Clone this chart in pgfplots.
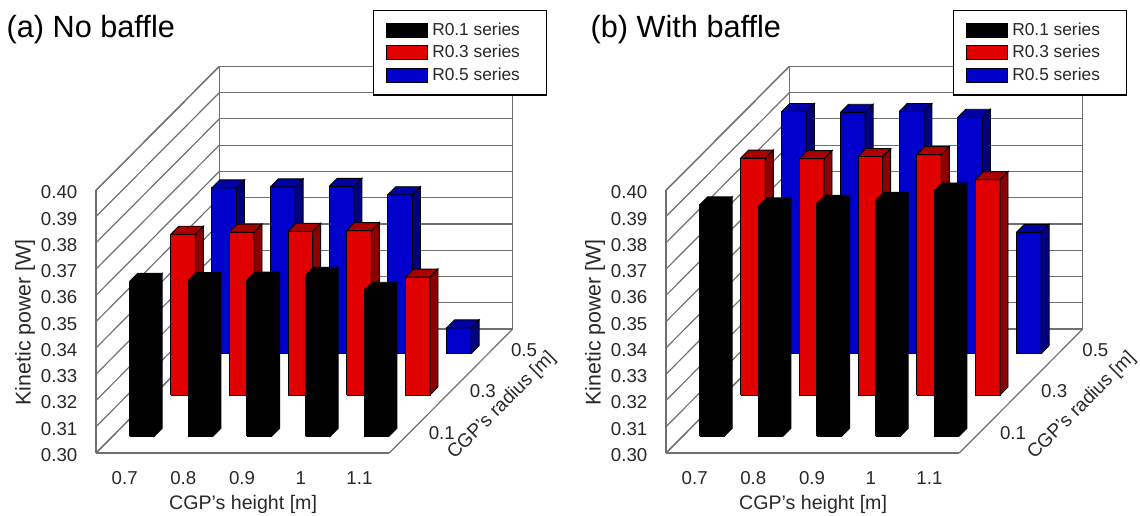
\documentclass[border=0pt]{standalone}
\usepackage{fontspec}
\setmainfont{Liberation Sans}
\usepackage{pgfplots}
\pgfplotsset{compat=1.18}
\definecolor{Fblack}{RGB}{0,0,0}\definecolor{Sblack}{RGB}{0,0,0}\definecolor{Tblack}{RGB}{0,0,0}
\definecolor{Fred}{RGB}{224,0,0}\definecolor{Sred}{RGB}{139,0,0}\definecolor{Tred}{RGB}{170,0,0}
\definecolor{Fblue}{RGB}{0,0,204}\definecolor{Sblue}{RGB}{0,0,128}\definecolor{Tblue}{RGB}{0,0,165}
\definecolor{wall}{RGB}{112,112,112}
\definecolor{txt}{RGB}{40,40,40}
% one bar: category index, row index, value, colour name
\newcommand{\Bar}[4]{%
  \pgfmathsetmacro\xa{#1+0.29}\pgfmathsetmacro\xb{#1+0.71}%
  \pgfmathsetmacro\ya{#2+0.403}\pgfmathsetmacro\yb{#2+0.597}%
  \addplot3[forget plot,fill=F#4,draw=black,line width=0.7pt] coordinates {(\xa,\ya,0.30) (\xb,\ya,0.30) (\xb,\ya,#3) (\xa,\ya,#3) (\xa,\ya,0.30)};
  \addplot3[forget plot,fill=S#4,draw=black,line width=0.7pt] coordinates {(\xb,\ya,0.30) (\xb,\yb,0.30) (\xb,\yb,#3) (\xb,\ya,#3) (\xb,\ya,0.30)};
  \addplot3[forget plot,fill=T#4,draw=black,line width=0.7pt] coordinates {(\xa,\ya,#3) (\xb,\ya,#3) (\xb,\yb,#3) (\xa,\yb,#3) (\xa,\ya,#3)};
}
\pgfplotsset{
  kp/.style={
    anchor=south west,clip=false,
    x={(44pt,0pt)},y={(30.85pt,31pt)},z={(0pt,1970pt)},
    xmin=0,xmax=5,ymin=0,ymax=3,zmin=0.30,zmax=0.40,
    xtick={0.5,1.5,2.5,3.5,4.5},xticklabels={0.7,0.8,0.9,1,1.1},
    ytick={0.5,1.5,2.5},yticklabels={0.1,0.3,0.5},
    ztick={0.30,0.31,0.32,0.33,0.34,0.35,0.36,0.37,0.38,0.39,0.40},
    scaled z ticks=false,
    zticklabel style={/pgf/number format/.cd,fixed,fixed zerofill,precision=2,assume math mode=true,/tikz/.cd,xshift=-10.5pt,yshift=5.6pt},
    xticklabel style={xshift=3pt,yshift=-10.5pt},
    zmajorgrids=true,xmajorgrids=false,ymajorgrids=false,
    grid style={draw=wall,line width=0.9pt},
    axis line style={draw=wall,line width=0.9pt},
    major tick length=0pt,tick style={draw=none},
    tick label style={font=\fontsize{14}{14}\selectfont,text=txt},
    label style={text=txt},
    xlabel={CGP's height [m]},ylabel={CGP's radius [m]},zlabel={Kinetic power [W]},
    legend cell align=left,
    legend image code/.code={\draw[##1,draw=black,line width=0.7pt] (0pt,-5.25pt) rectangle (30.75pt,5.25pt);},
    legend style={font=\fontsize{13}{13}\selectfont,text=txt,draw=black,line width=1pt,fill=white,
      anchor=north west,inner xsep=9pt,inner ysep=7.4pt,row sep=2pt},
    title style={font=\fontsize{23}{23}\selectfont,text=black,anchor=west},
    every axis x label/.append style={font=\fontsize{14.7}{14.7}\selectfont,at={(axis description cs:0.353,-0.134)},anchor=center},
    every axis z label/.append style={font=\fontsize{16}{16}\selectfont,at={(axis description cs:-0.170,0.338)},anchor=center,rotate=0},
  },
}
\newcommand{\Entries}{%
  \addlegendimage{fill=Fblack}\addlegendentry{\hspace{1.5pt}R0.1 series\hspace{9pt}\mbox{}}
  \addlegendimage{fill=Fred}\addlegendentry{\hspace{1.5pt}R0.3 series\hspace{9pt}\mbox{}}
  \addlegendimage{fill=Fblue}\addlegendentry{\hspace{1.5pt}R0.5 series\hspace{9pt}\mbox{}}
}
\begin{document}
\begin{tikzpicture}
\path[use as bounding box] (0pt,0pt) rectangle (855pt,386.25pt);
\begin{axis}[kp,at={(72pt,46.5pt)},
  legend style={at={(axis description cs:0.6647,1.1467)}},
  title={(a) No baffle},title style={at={(axis description cs:-0.2256,1.0742)}},
  yticklabel style={xshift=13pt,yshift=10.7pt},
  every axis y label/.append style={font=\fontsize{14.3}{14.3}\selectfont,at={(axis description cs:0.974,0.1224)},anchor=center,rotate=45}]
\Entries
\Bar{0}{2}{0.3631}{blue}\Bar{1}{2}{0.3635}{blue}\Bar{2}{2}{0.3637}{blue}\Bar{3}{2}{0.3605}{blue}\Bar{4}{2}{0.3098}{blue}
\Bar{0}{1}{0.3612}{red}\Bar{1}{1}{0.3620}{red}\Bar{2}{1}{0.3623}{red}\Bar{3}{1}{0.3626}{red}\Bar{4}{1}{0.3449}{red}
\Bar{0}{0}{0.3590}{black}\Bar{1}{0}{0.3593}{black}\Bar{2}{0}{0.3595}{black}\Bar{3}{0}{0.3613}{black}\Bar{4}{0}{0.3556}{black}
\end{axis}
\begin{axis}[kp,at={(499.5pt,46.5pt)},
  legend style={at={(axis description cs:0.6887,1.1467)}},
  title={(b) With baffle},title style={at={(axis description cs:-0.192,1.0742)}},
  yticklabel style={xshift=14pt,yshift=10.7pt},
  every axis y label/.append style={font=\fontsize{14.3}{14.3}\selectfont,at={(axis description cs:0.998,0.1224)},anchor=center,rotate=45}]
\Entries
\Bar{0}{2}{0.3922}{blue}\Bar{1}{2}{0.3919}{blue}\Bar{2}{2}{0.3922}{blue}\Bar{3}{2}{0.3900}{blue}\Bar{4}{2}{0.3462}{blue}
\Bar{0}{1}{0.3902}{red}\Bar{1}{1}{0.3900}{red}\Bar{2}{1}{0.3908}{red}\Bar{3}{1}{0.3915}{red}\Bar{4}{1}{0.3820}{red}
\Bar{0}{0}{0.3881}{black}\Bar{1}{0}{0.3877}{black}\Bar{2}{0}{0.3887}{black}\Bar{3}{0}{0.3898}{black}\Bar{4}{0}{0.3934}{black}
\end{axis}
\end{tikzpicture}
\end{document}
